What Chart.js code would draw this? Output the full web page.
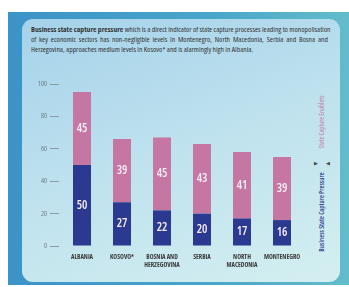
<!DOCTYPE html>
<html>
<head>
<meta charset="utf-8">
<script src="https://cdn.jsdelivr.net/npm/chart.js@4.4.1/dist/chart.umd.min.js"></script>
<style>
    html, body { margin: 0; padding: 0; background: #fff; }
    #wrap { position: relative; width: 349px; height: 287px; overflow: hidden; }
    .outer {
        position: absolute; left: 8px; top: 12px; width: 341px; height: 273px;
        background: linear-gradient(90deg, #3b93c7 0%, #4aa6c9 60%, #62bccb 100%);
    }
    .inner {
        position: absolute; left: 22px; top: 19px; width: 318px; height: 263px;
        border-radius: 11px;
        background: linear-gradient(160deg, #a5d2ea 0%, #bfe2ee 50%, #d4eff0 100%);
    }
    .title {
        position: absolute; left: 31px; top: 25px; width: 297px;
        font-family: "Open Sans", sans-serif; font-stretch: 75%;
        font-size: 7.6px; line-height: 9.8px; color: #333;
    }
    .title div { white-space: nowrap; }
    .title .j { text-align: justify; text-align-last: justify; }
    .side {
        position: absolute; transform: translate(-50%, -50%) rotate(-90deg);
        white-space: nowrap;
        font-family: "Open Sans", sans-serif; font-stretch: 75%;
        font-size: 6.8px;
    }
    .arrow { position: absolute; font-family: "DejaVu Sans", sans-serif; font-size: 5px; color: #444; transform: translate(-50%, -50%); }
    canvas { position: absolute; left: 0; top: 0; }
</style>
</head>
<body>
<div id="wrap">
    <div class="outer"></div>
    <div class="inner"></div>
    <div class="title">
        <div class="j"><b>Business state capture pressure</b> which is a direct indicator of state capture processes leading to monopolisation</div>
        <div class="j">of key economic sectors has non-negligible levels in Montenegro, North Macedonia, Serbia and Bosna and</div>
        <div>Herzegovina, approaches medium levels in Kosovo* and is alarmingly high in Albania.</div>
    </div>
    <div class="side" style="left:321px; top:122px; color:#c676a3;">State Capture Enablers</div>
    <div class="side" style="left:321px; top:212px; color:#2b3990; font-weight:600;">Business State Capture Pressure</div>
    <div class="arrow" style="left:316px; top:163px;">&#9654;</div>
    <div class="arrow" style="left:328px; top:163px;">&#9664;</div>
    <canvas id="chart" width="349" height="287"></canvas>
</div>
<script>
// Business state capture pressure vs. state capture enablers
const categories = ['ALBANIA', 'KOSOVO*', ['BOSNIA AND', 'HERZEGOVINA'], 'SERBIA', ['NORTH', 'MACEDONIA'], 'MONTENEGRO'];
const pressure = [50, 27, 22, 20, 17, 16];
const enablers = [45, 39, 45, 43, 41, 39];
const yTicks = [0, 20, 40, 60, 80, 100];

const openSans = '"Open Sans", sans-serif';

// draw the values inside each bar segment
const valueLabels = {
    id: 'valueLabels',
    afterDatasetsDraw(chart) {
        const ctx = chart.ctx;
        ctx.save();
        ctx.fillStyle = '#f6eef6';
        ctx.font = 'condensed 600 12px ' + openSans;
        ctx.textAlign = 'center';
        ctx.textBaseline = 'middle';
        chart.data.datasets.forEach((ds, i) => {
            chart.getDatasetMeta(i).data.forEach((bar, j) => {
                const mid = (bar.y + bar.base) / 2;
                ctx.fillText(ds.data[j], bar.x, mid);
            });
        });
        ctx.restore();
    }
};

new Chart(document.getElementById('chart'), {
    type: 'bar',
    data: {
        labels: categories,
        datasets: [
            { label: 'Business State Capture Pressure', data: pressure, backgroundColor: '#2b3990' },
            { label: 'State Capture Enablers', data: enablers, backgroundColor: '#c676a3' }
        ]
    },
    options: {
        responsive: false,
        animation: false,
        layout: { padding: { top: 84, right: 47, bottom: 0, left: 0 } },
        plugins: { legend: { display: false }, tooltip: { enabled: false } },
        datasets: { bar: { barPercentage: 0.45, categoryPercentage: 1 } },
        scales: {
            x: {
                stacked: true,
                grid: { display: false, drawTicks: false },
                border: { display: false },
                afterFit: (scale) => { scale.height = 41; },
                ticks: {
                    padding: 8,
                    color: '#3a3a3a',
                    font: { family: openSans, size: 6.5, weight: 'condensed bold', lineHeight: 1.1 },
                    maxRotation: 0,
                    autoSkip: false
                }
            },
            y: {
                stacked: true,
                min: 0,
                max: 100,
                afterFit: (scale) => { scale.width = 62; },
                afterBuildTicks: (scale) => { scale.ticks = yTicks.map(v => ({ value: v })); },
                border: { display: false },
                grid: {
                    drawOnChartArea: false,
                    tickLength: 12,
                    tickBorderDash: [9, 20],
                    tickColor: '#8c9ba5',
                    tickWidth: 1
                },
                ticks: {
                    padding: 3,
                    color: '#6d7c87',
                    font: { family: openSans, size: 7, weight: 'condensed' }
                }
            }
        }
    },
    plugins: [valueLabels]
});
</script>
</body>
</html>
